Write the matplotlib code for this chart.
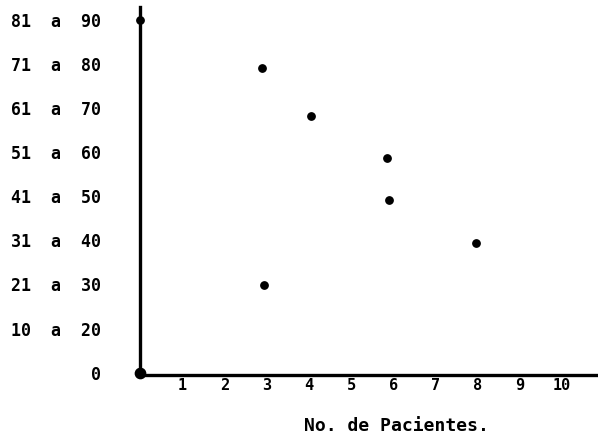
import matplotlib
matplotlib.use('Agg')
import matplotlib.pyplot as plt

# y categories (age ranges), bottom to top
rangos = ['0', '10  a  20', '21  a  30', '31  a  40', '41  a  50',
          '51  a  60', '61  a  70', '71  a  80', '81  a  90']
x_ticks = [1, 2, 3, 4, 5, 6, 7, 8, 9, 10]

# points (x = no. of patients, y = row index of range)
pacientes = [0.0, 2.9, 4.05, 5.85, 5.9, 7.95, 2.95]
fila = [8.0, 6.9, 5.82, 4.87, 3.92, 2.93, 1.98]

fuente = {'family': 'DejaVu Sans Mono', 'weight': 'bold'}

fig = plt.figure(figsize=(5.98, 4.42), dpi=100)
ax = fig.add_axes([0.234, 0.152, 0.766, 0.833])

ax.scatter(pacientes, fila, s=28, color='black', zorder=3, clip_on=False)
ax.scatter([0], [0], s=55, color='black', zorder=4, clip_on=False)

ax.set_xlim(0, 10.85)
ax.set_ylim(-0.05, 8.3)

ax.set_yticks(range(len(rangos)))
ax.set_yticklabels(rangos, fontdict=fuente, fontsize=12)
ax.set_xticks(x_ticks)
ax.set_xticklabels([str(t) for t in x_ticks], fontdict=fuente, fontsize=11)
ax.tick_params(axis='both', length=0)
ax.tick_params(axis='y', pad=28)
ax.tick_params(axis='x', pad=2)

ax.spines['top'].set_visible(False)
ax.spines['right'].set_visible(False)
ax.spines['left'].set_linewidth(2.4)
ax.spines['bottom'].set_linewidth(2.4)

ax.set_xlabel('No. de Pacientes.', fontdict=fuente, fontsize=13)
ax.xaxis.set_label_coords(0.56, -0.115)

fig.savefig('out.png', dpi=100)
